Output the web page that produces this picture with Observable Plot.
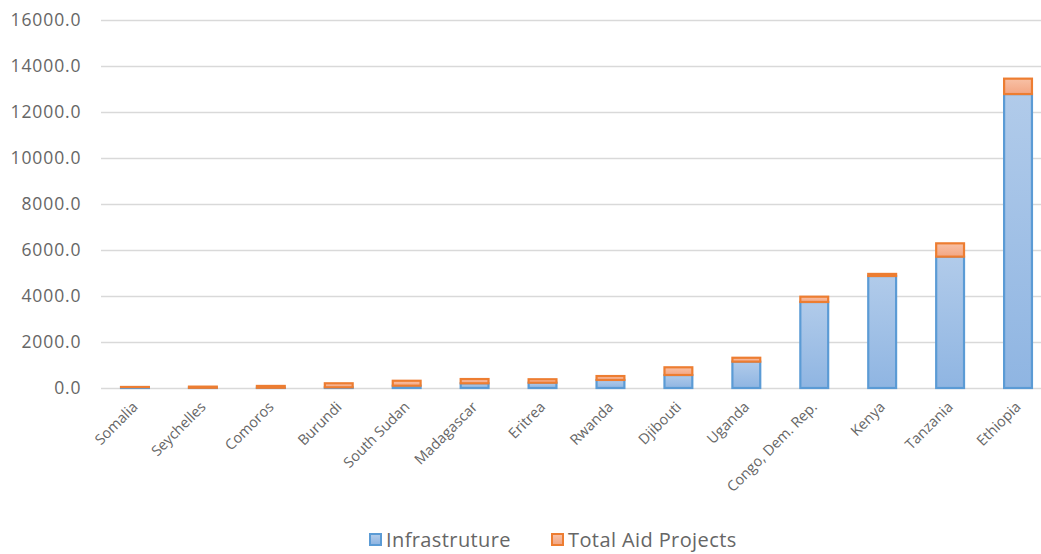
<!DOCTYPE html>
<html>
<head>
<meta charset="utf-8">
<script src="https://cdn.jsdelivr.net/npm/d3@7"></script>
<script src="https://cdn.jsdelivr.net/npm/@observablehq/plot@0.6"></script>
<style>
  html, body { margin: 0; padding: 0; background: #fff; overflow: hidden; }
  #wrap { width: 1041px; overflow: hidden; font-family: "Open Sans", sans-serif; }
  .legend { position: relative; height: 30px; margin-top: 14px; font-size: 20px; letter-spacing: 0.4px; color: #666; }
  .legend span.item { position: absolute; top: 0; display: flex; align-items: center; white-space: nowrap; }
  .legend span.sw { display: inline-block; width: 9px; height: 9px; margin-right: 4px; border: 2px solid; }
  g[aria-label="y-axis tick label"] text { letter-spacing: 0.9px; }
</style>
</head>
<body>
<div id="wrap"></div>
<script>
const countries = ["Somalia","Seychelles","Comoros","Burundi","South Sudan","Madagascar","Eritrea","Rwanda","Djibouti","Uganda","Congo, Dem. Rep.","Kenya","Tanzania","Ethiopia"];
const infrastructure = [40, 10, 10, 30, 100, 205, 230, 350, 565, 1145, 3740, 4870, 5710, 12780];
const totalAid = [5, 50, 80, 175, 215, 185, 150, 170, 335, 170, 230, 90, 580, 670];
const seriesNames = ["Infrastruture", "Total Aid Projects"];
const yTicks = [0, 2000, 4000, 6000, 8000, 10000, 12000, 14000, 16000];

const data = [];
countries.forEach((c, i) => data.push({country: c, series: seriesNames[0], value: infrastructure[i]}));
countries.forEach((c, i) => data.push({country: c, series: seriesNames[1], value: totalAid[i]}));

function defs() {
  const ns = "http://www.w3.org/2000/svg";
  const d = document.createElementNS(ns, "defs");
  const mk = (id, c1, c2) => {
    const g = document.createElementNS(ns, "linearGradient");
    g.setAttribute("id", id); g.setAttribute("x1", "0"); g.setAttribute("y1", "0"); g.setAttribute("x2", "0"); g.setAttribute("y2", "1");
    [[0, c1], [1, c2]].forEach(([o, c]) => {
      const s = document.createElementNS(ns, "stop");
      s.setAttribute("offset", o); s.setAttribute("stop-color", c);
      g.appendChild(s);
    });
    d.appendChild(g);
  };
  mk("gBlue", "#b1cbea", "#8fb5e2");
  mk("gOrange", "#f8c1a6", "#f3a683");
  return d;
}

const chart = Plot.plot({
  width: 1052,
  height: 512,
  marginLeft: 101,
  marginRight: 0,
  marginTop: 20,
  marginBottom: 124,
  style: { fontFamily: "Open Sans, sans-serif", color: "#666", background: "#fff", maxWidth: "none" },
  x: { domain: countries, paddingInner: 0.59, paddingOuter: 0.295, round: false, label: null },
  y: { domain: [0, 16000], label: null },
  marks: [
    defs,
    Plot.gridY(yTicks, { stroke: "#d9d9d9", strokeOpacity: 1, strokeWidth: 1.5 }),
    Plot.axisY({ ticks: yTicks, tickSize: 0, tickPadding: 20, tickFormat: d => d.toFixed(1), fontSize: 17.5, fill: "#666", label: null }),
    Plot.axisX({ tickSize: 0, tickRotate: -45, tickPadding: 16, fontSize: 14.5, fill: "#666", label: null }),
    Plot.barY(data, {
      x: "country", y: "value", order: null,
      fill: d => d.series === seriesNames[0] ? "url(#gBlue)" : "url(#gOrange)",
      stroke: d => d.series === seriesNames[0] ? "#5b9bd5" : "#ed7d31",
      strokeWidth: 2.2,
      inset: 0
    })
  ]
});

document.getElementById("wrap").appendChild(chart);

const legend = document.createElement("div");
legend.className = "legend";
legend.innerHTML = `
  <span class="item" style="left:369px"><span class="sw" style="background:linear-gradient(#b1cbea,#8fb5e2);border-color:#5b9bd5"></span>${seriesNames[0]}</span>
  <span class="item" style="left:551px"><span class="sw" style="background:linear-gradient(#f8c1a6,#f3a683);border-color:#ed7d31"></span>${seriesNames[1]}</span>`;
document.getElementById("wrap").appendChild(legend);
</script>
</body>
</html>
